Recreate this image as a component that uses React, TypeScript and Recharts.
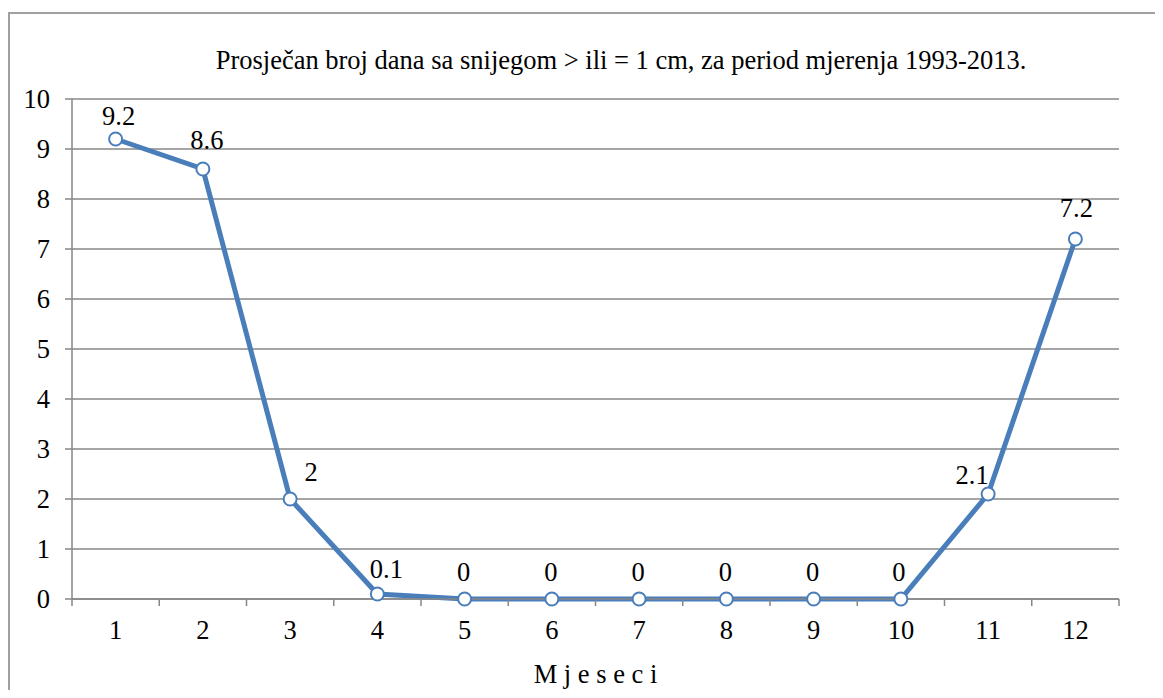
import { LineChart, Line, XAxis, YAxis, CartesianGrid, Label } from 'recharts'

const months = ['1', '2', '3', '4', '5', '6', '7', '8', '9', '10', '11', '12']
const snowDays = [9.2, 8.6, 2, 0.1, 0, 0, 0, 0, 0, 0, 2.1, 7.2]
const yTicks = [0, 1, 2, 3, 4, 5, 6, 7, 8, 9, 10]
const title = 'Prosječan broj dana sa snijegom > ili = 1 cm, za period mjerenja 1993-2013.'
const xTitle = 'M j e s e c i'

const data = months.map((m, i) => ({ month: m, days: snowDays[i] }))

// layout
const W = 1145
const H = 676
const margin = { top: 85, right: 36, bottom: 6, left: 0 }
const Y_AXIS_W = 62
const X_AXIS_H = 85
const PLOT_BOTTOM = H - margin.bottom - X_AXIS_H
const BAND = (W - margin.left - Y_AXIS_W - margin.right) / months.length

const BLUE = '#4a7ebb'
const GRID = '#878787'
const FONT = 'Liberation Serif, Times New Roman, serif'
const FS = 26.5

// hand-placed label offsets like in the original sheet [dx, dy]
const labelNudge: [number, number][] = [
  [3, 4], [4, -2], [21, 0], [9, 2], [-1, 0], [-1, 0],
  [-1, 0], [-1, 0], [-1, 0], [-2, 0], [-16, 8], [1, -4],
]

function MonthTick(props: any) {
  const { x, index, payload } = props
  const left = x - BAND / 2
  return (
    <g>
      <line x1={left} x2={left} y1={PLOT_BOTTOM} y2={PLOT_BOTTOM + 7} stroke={GRID} strokeWidth={1.5} />
      {index === months.length - 1 && (
        <line x1={x + BAND / 2} x2={x + BAND / 2} y1={PLOT_BOTTOM} y2={PLOT_BOTTOM + 7} stroke={GRID} strokeWidth={1.5} />
      )}
      <text x={x} y={PLOT_BOTTOM + 21} dy="0.71em" textAnchor="middle" fill="#000" fontSize={FS} style={{ fontFamily: FONT }}>
        {payload.value}
      </text>
    </g>
  )
}

function PointLabel(props: any) {
  const { x, y, value, index } = props
  const [dx, dy] = labelNudge[index] || [0, 0]
  return (
    <text x={x + dx} y={y - 18 + dy} textAnchor="middle" fill="#000" fontSize={FS} style={{ fontFamily: FONT }}>
      {value}
    </text>
  )
}

export default function App() {
  return (
    <div style={{ paddingTop: 4 }}>
      <div
        style={{
          position: 'relative',
          width: W,
          height: H,
          borderLeft: '2px solid #a0a0a0',
          borderTop: '2px solid #a0a0a0',
          background: '#fff',
          fontFamily: FONT,
        }}
      >
        <div
          style={{
            position: 'absolute',
            top: 33,
            left: 611,
            transform: 'translateX(-50%)',
            whiteSpace: 'nowrap',
            fontSize: FS,
            lineHeight: `${FS}px`,
            color: '#000',
          }}
        >
          {title}
        </div>
        <LineChart width={W} height={H} data={data} margin={margin}>
          <CartesianGrid vertical={false} stroke={GRID} strokeWidth={1.5} />
          <XAxis
            dataKey="month"
            height={X_AXIS_H}
            interval={0}
            padding={{ left: BAND / 2, right: BAND / 2 }}
            axisLine={{ stroke: GRID, strokeWidth: 1.5 }}
            tickLine={false}
            tick={<MonthTick />}
          >
            <Label value={xTitle} position="insideBottom" offset={1} fill="#000" fontSize={FS} fontFamily={FONT} />
          </XAxis>
          <YAxis
            width={Y_AXIS_W}
            domain={[0, 10]}
            ticks={yTicks}
            interval={0}
            axisLine={{ stroke: GRID, strokeWidth: 1.5 }}
            tickLine={{ stroke: GRID, strokeWidth: 1.5 }}
            tickSize={7}
            tickMargin={15}
            tick={{ fill: '#000', fontSize: FS, fontFamily: FONT }}
          />
          <Line
            type="linear"
            dataKey="days"
            stroke={BLUE}
            strokeWidth={5}
            dot={{ r: 6.5, fill: '#fff', stroke: BLUE, strokeWidth: 2 }}
            label={<PointLabel />}
            isAnimationActive={false}
          />
        </LineChart>
      </div>
    </div>
  )
}
